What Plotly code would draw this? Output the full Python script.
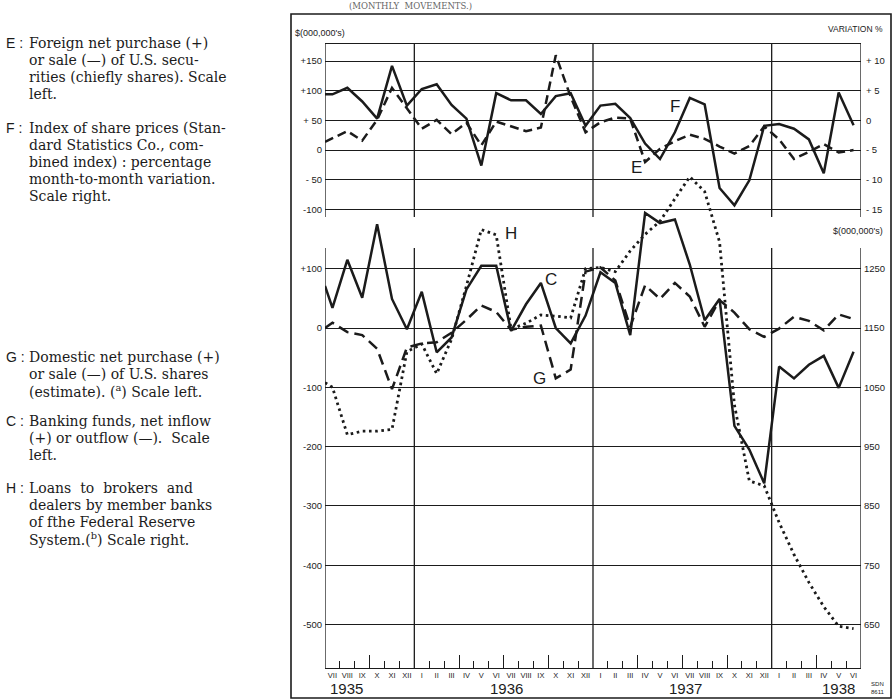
import plotly.graph_objects as go

# ---------------- data ----------------
MONTHS = ["VII", "VIII", "IX", "X", "XI", "XII",
          "I", "II", "III", "IV", "V", "VI", "VII", "VIII", "IX", "X", "XI", "XII",
          "I", "II", "III", "IV", "V", "VI", "VII", "VIII", "IX", "X", "XI", "XII",
          "I", "II", "III", "IV", "V", "VI"]
YEARS = ["1935", "1936", "1937", "1938"]

# value of each curve where it enters at the left edge (end of VI 1935)
E_start = 14
F_start = 4.4
C_start = 71
G_start = 0
H_start = 1058

# E : foreign net purchase / sale of U.S. securities, $ million (left scale, top)
E_values = [20, 32, 16, 51, 105, 70, 36, 51, 27, 46, 8, 48, 40, 32, 38, 160, 90, 30,
            47, 55, 53, -20, 2, 15, 26, 19, 6, -6, 7, 40, 18, -15, -3, 10, -4, 0]
# F : share-price index, month-to-month variation % (right scale, top)
F_values = [4.4, 5.5, 3.2, 0.3, 9.2, 2.5, 5.3, 6.1, 2.6, 0.3, -7.6, 4.6, 3.4, 3.4, 1.1, 4.1, 4.6, -0.9,
            2.5, 2.8, 0.4, -3.9, -6.5, -2.0, 3.8, 2.7, -11.4, -14.3, -10.1, -0.9, -0.6, -1.4, -3.2, -8.9, 4.7, -0.8]
# C : banking funds, net inflow / outflow, $ million (left scale, bottom)
C_values = [34, 115, 51, 175, 49, -2, 61, -41, -16, 65, 105, 105, -5, 40, 76, 0, -26, 21,
            94, 76, -12, 194, 177, 183, 107, 13, 49, -165, -205, -262, -65, -85, -62, -47, -101, -40]
# G : domestic net purchase / sale of U.S. shares, $ million (left scale, bottom)
G_values = [9, -7, -12, -35, -103, -33, -26, -24, -8, 14, 38, 27, -3, 2, 4, -85, -70, 95,
            102, 80, 2, 72, 49, 76, 53, 2, 47, 26, -2, -15, -1, 19, 12, -4, 23, 15]
# H : loans to brokers and dealers, $ million (right scale, bottom)
H_values = [1050, 970, 976, 976, 979, 1110, 1123, 1073, 1131, 1221, 1316, 1307, 1148, 1158, 1172, 1170, 1167, 1250,
            1252, 1245, 1280, 1308, 1330, 1368, 1405, 1380, 1295, 1020, 892, 884, 822, 768, 721, 680, 647, 643]

E_ticks = [150, 100, 50, 0, -50, -100]
E_ticktext = ["+150", "+100", "+ 50", "0", "- 50", "-100"]
F_ticks = [10, 5, 0, -5, -10, -15]
F_ticktext = ["+ 10", "+ 5", "0", "- 5", "- 10", "- 15"]
C_ticks = [100, 0, -100, -200, -300, -400, -500]
C_ticktext = ["+100", "0", "-100", "-200", "-300", "-400", "-500"]
H_ticks = [1250, 1150, 1050, 950, 850, 750, 650]
H_ticktext = ["1250", "1150", "1050", "950", "850", "750", "650"]

# ---------------- geometry / scales ----------------
W, HT = 893, 700
PLOT_L, PLOT_R, PLOT_T, PLOT_B = 325, 861, 44, 668
ZERO_PX = 328.0        # pixel row of the bottom-panel zero
PX_PER_UNIT = 0.593    # pixels per $ million


def fx(px):
    return px / W


def fy(py):
    return 1 - py / HT


N = len(MONTHS)
X_MONTH = [k + 0.5 for k in range(N)]
X_LINE = [0] + X_MONTH

C_top = (ZERO_PX - PLOT_T) / PX_PER_UNIT
C_bot = (ZERO_PX - PLOT_B) / PX_PER_UNIT
E_OFFSET = 300          # top-panel zero is 300 units above the bottom-panel zero
H_OFFSET = 1150         # right bottom scale: 1150 at the bottom-panel zero
range_C = [C_bot, C_top]
range_E = [C_bot - E_OFFSET, C_top - E_OFFSET]
range_F = [v / 10 - 5 for v in range_E]   # F = E/10 - 5 on the shared grid
range_H = [C_bot + H_OFFSET, C_top + H_OFFSET]

TOP_PANEL = [187, C_top]      # extent of the top panel frame (bottom-panel units)
BOT_PANEL = [C_bot, 135]      # extent of the bottom panel frame

INK = "#1b1b1b"
SANS = "Liberation Sans"
SERIF = "DejaVu Serif"

SHORT_TICKS = [q for q in range(1, N) if q % 3 != 0]
LONG_TICKS = [q for q in range(3, N, 3) if q % 12 != 6]

fig = go.Figure()

fig.add_trace(go.Scatter(x=X_LINE, y=[E_start] + E_values, yaxis="y2", mode="lines",
                         line=dict(color=INK, width=2.5, dash="9px,5px"), hoverinfo="skip"))
fig.add_trace(go.Scatter(x=X_LINE, y=[F_start] + F_values, yaxis="y3", mode="lines",
                         line=dict(color=INK, width=2.5), hoverinfo="skip"))
fig.add_trace(go.Scatter(x=X_LINE, y=[G_start] + G_values, yaxis="y", mode="lines",
                         line=dict(color=INK, width=2.5, dash="11px,6px"), hoverinfo="skip"))
fig.add_trace(go.Scatter(x=X_LINE, y=[C_start] + C_values, yaxis="y", mode="lines",
                         line=dict(color=INK, width=2.5), hoverinfo="skip"))
fig.add_trace(go.Scatter(x=X_LINE, y=[H_start] + H_values, xaxis="x2", yaxis="y4", mode="lines",
                         line=dict(color=INK, width=2.8, dash="2.6px,3.6px"), hoverinfo="skip"))

tickfont = dict(family=SANS, size=9.5, color=INK)
ydom = [fy(PLOT_B), fy(PLOT_T)]

fig.update_layout(
    width=W, height=HT, autosize=False,
    margin=dict(l=0, r=0, t=0, b=0),
    paper_bgcolor="white", plot_bgcolor="white",
    showlegend=False,
    xaxis=dict(domain=[fx(PLOT_L), fx(PLOT_R)], range=[0, N], anchor="y",
               tickmode="array", tickvals=X_MONTH, ticktext=MONTHS, ticks="",
               tickfont=dict(family=SANS, size=7.5, color=INK), tickangle=0,
               showline=True, linecolor=INK, linewidth=1.4, mirror=True,
               showgrid=False, zeroline=False, fixedrange=True,
               minor=dict(tickmode="array", tickvals=SHORT_TICKS, ticks="inside",
                          ticklen=7, tickcolor=INK, tickwidth=1.1)),
    xaxis2=dict(overlaying="x", range=[0, N], anchor="y", side="bottom",
                tickmode="array", tickvals=LONG_TICKS, ticks="inside", ticklen=13,
                tickcolor=INK, tickwidth=1.1, showticklabels=False,
                showline=False, showgrid=False, zeroline=False),
    yaxis=dict(domain=ydom, range=range_C, anchor="x", side="left",
               tickmode="array", tickvals=C_ticks, ticktext=C_ticktext, ticks="",
               tickfont=tickfont, showgrid=True, gridcolor=INK, gridwidth=1.1,
               showline=False, zeroline=False, ticklabelstandoff=2),
    yaxis2=dict(overlaying="y", range=range_E, anchor="x", side="left",
                tickmode="array", tickvals=E_ticks, ticktext=E_ticktext, ticks="",
                tickfont=tickfont, showgrid=True, gridcolor=INK, gridwidth=1.1,
                showline=False, zeroline=False, ticklabelstandoff=2),
    yaxis3=dict(overlaying="y", range=range_F, anchor="x", side="right",
                tickmode="array", tickvals=F_ticks, ticktext=F_ticktext, ticks="",
                tickfont=tickfont, showgrid=False, showline=False, zeroline=False,
                ticklabelstandoff=4),
    yaxis4=dict(overlaying="y", range=range_H, anchor="x2", side="right",
                tickmode="array", tickvals=H_ticks, ticktext=H_ticktext, ticks="",
                tickfont=tickfont, showgrid=False, showline=False, zeroline=False,
                ticklabelstandoff=2),
)

# panel frames and year dividers (bottom-panel units on the y scale)
shapes = []
for xv in [0, 6, 18, 30, N]:
    for y0, y1 in (TOP_PANEL, BOT_PANEL):
        shapes.append(dict(type="line", xref="x", yref="y", x0=xv, x1=xv, y0=y0, y1=y1,
                           line=dict(color=INK, width=1.3)))
# outer frame
shapes.append(dict(type="rect", xref="paper", yref="paper",
                   x0=fx(291), x1=fx(891), y0=fy(698), y1=fy(14),
                   line=dict(color=INK, width=1.6)))
fig.update_layout(shapes=shapes)

ann = []
# year labels under the month labels
year_pos = [(0.2, "left"), (12.2, "center"), (24.2, "center"), (35.7, "right")]
for (xp, anc), yr in zip(year_pos, YEARS):
    ann.append(dict(x=xp, y=fy(688), xref="x", yref="paper", text=yr, showarrow=False,
                    xanchor=anc, yanchor="middle",
                    font=dict(family=SANS, size=15, color=INK)))
# series letters inside the chart
for txt, xp, yp in [("F", 23.5, 374), ("E", 20.9, 270), ("H", 12.5, 160),
                    ("C", 15.2, 82), ("G", 14.4, -85)]:
    ann.append(dict(x=xp, y=yp, xref="x", yref="y", text=txt, showarrow=False,
                    xanchor="center", yanchor="middle",
                    font=dict(family=SANS, size=17, color=INK)))
# unit captions
ann += [
    dict(x=fx(293), y=fy(33), xref="paper", yref="paper", text="$(000,000's)",
         showarrow=False, xanchor="left", yanchor="middle",
         font=dict(family=SANS, size=9, color=INK)),
    dict(x=fx(885), y=fy(29), xref="paper", yref="paper", text="VARIATION %",
         showarrow=False, xanchor="right", yanchor="middle",
         font=dict(family=SANS, size=8.5, color=INK)),
    dict(x=fx(885), y=fy(231), xref="paper", yref="paper", text="$(000,000's)",
         showarrow=False, xanchor="right", yanchor="middle",
         font=dict(family=SANS, size=9, color=INK)),
    dict(x=fx(878), y=fy(688), xref="paper", yref="paper", text="SDN<br>8611",
         showarrow=False, xanchor="center", yanchor="middle",
         font=dict(family=SANS, size=6, color=INK)),
    dict(x=fx(410), y=fy(6), xref="paper", yref="paper", text="(MONTHLY  MOVEMENTS.)",
         showarrow=False, xanchor="center", yanchor="middle",
         font=dict(family=SERIF, size=8.5, color="#666")),
]

# left-hand key
KEY = [
    ("E", [(43, "Foreign net purchase (+)"), (60, "or sale (—) of U.S. secu-"),
           (77, "rities (chiefly shares). Scale"), (94, "left.")]),
    ("F", [(128, "Index of share prices (Stan-"), (145, "dard Statistics Co., com-"),
           (162, "bined index) : percentage"), (179, "month-to-month variation."),
           (196, "Scale right.")]),
    ("G", [(357, "Domestic net purchase (+)"), (374, "or sale (—) of U.S. shares"),
           (391, "(estimate). (<sup>a</sup>) Scale left.")]),
    ("C", [(421, "Banking funds, net inflow"), (438, "(+) or outflow (—).  Scale"),
           (455, "left.")]),
    ("H", [(488, "Loans  to  brokers  and"), (505, "dealers by member banks"),
           (522, "of fthe Federal Reserve"), (539, "System.(<sup>b</sup>) Scale right.")]),
]
for letter, lines in KEY:
    ann.append(dict(x=fx(4), y=fy(lines[0][0]), xref="paper", yref="paper",
                    text=letter + " :", showarrow=False, xanchor="left", yanchor="middle",
                    font=dict(family=SANS, size=14, color=INK)))
    for py, txt in lines:
        ann.append(dict(x=fx(27), y=fy(py), xref="paper", yref="paper", text=txt,
                        showarrow=False, xanchor="left", yanchor="middle",
                        font=dict(family=SERIF, size=14, color=INK)))

fig.update_layout(annotations=ann)

fig.write_html("out.html",
               config={"displayModeBar": False},
               post_script="document.body.style.margin='0px';"
                           "document.documentElement.style.overflow='hidden';")
